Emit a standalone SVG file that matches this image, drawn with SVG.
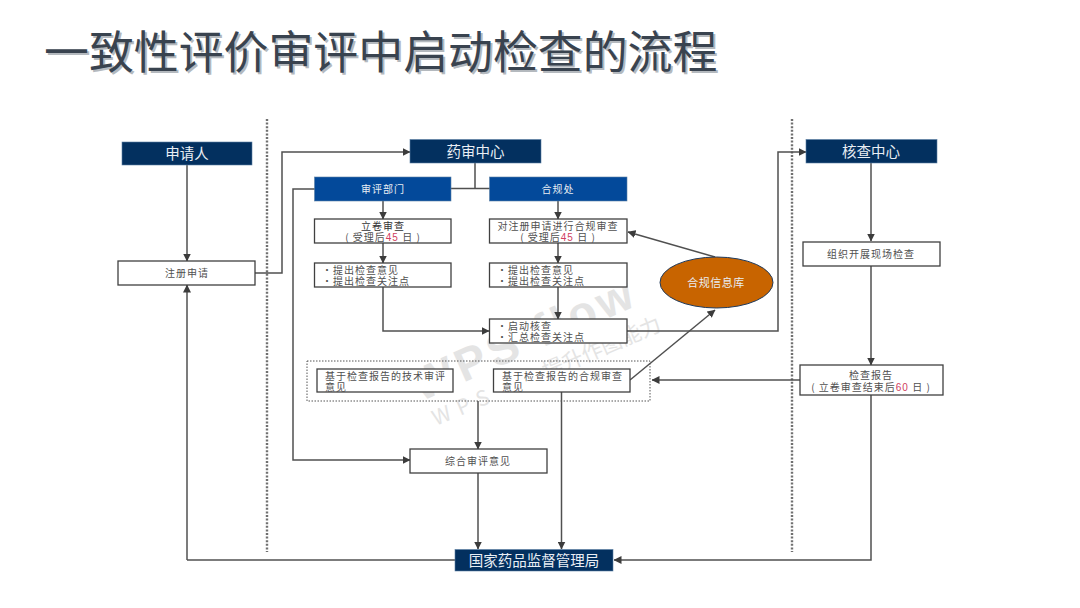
<svg xmlns="http://www.w3.org/2000/svg" width="1080" height="608" viewBox="0 0 1080 608">
<style>
text{font-family:"Noto Sans CJK SC","Liberation Sans",sans-serif;fill:#505050;font-size:10px;letter-spacing:1px}
.c{text-anchor:middle}
.w{fill:#e9eef4}
.big{font-size:14.500px;letter-spacing:0}
.box{fill:#fff;stroke:#404040;stroke-width:1.3}
.dk{fill:#03305f;stroke:#5b7fa3;stroke-width:.6}
.bl{fill:#03499a;stroke:#5b7fa3;stroke-width:.6}
.ln{fill:none;stroke:#505050;stroke-width:1.5}
.sep{stroke:#707070;stroke-width:2.4;stroke-dasharray:2 1.6;fill:none}
.red{fill:#d04060;font-family:"Liberation Sans",sans-serif}
.title{font-size:44.900px;fill:#39434f;letter-spacing:0}
.ts{font-size:44.900px;fill:#b4b9be;letter-spacing:0}
</style>
<defs>
<marker id="a" viewBox="0 0 8 8" refX="7.500" refY="4" markerUnits="userSpaceOnUse" markerWidth="8" markerHeight="8" orient="auto"><path d="M0 0L8 4L0 8z" fill="#3c3c3c"/></marker>
</defs>
<rect width="1080" height="608" fill="#fff"/>
<g id="title"><text class="ts" x="46" y="71">一致性评价审评中启动检查的流程</text><text class="title" x="44" y="69">一致性评价审评中启动检查的流程</text></g>
<g id="watermark">
<text transform="translate(420 402) rotate(-24)" style="font-size:46px;font-weight:700;letter-spacing:4px;fill:#e4e4e4;font-family:'Liberation Sans',sans-serif">WPS flow</text>
<text transform="translate(436 426) rotate(-23)" style="font-size:21px;letter-spacing:0;fill:#e4e4e4"><tspan style="letter-spacing:8px">WPS</tspan><tspan dx="52">提升作图能力</tspan></text>
</g>
<g id="separators"><path class="sep" d="M267 119V552M792 119V552"/></g>
<g id="connectors">
<path class="ln" marker-end="url(#a)" d="M187 165V261"/>
<path class="ln" marker-end="url(#a)" d="M187 560V285"/>
<path class="ln" marker-end="url(#a)" d="M255 273H282V152H410"/>
<path class="ln" d="M475 163V189M451 188.500H490"/>
<path class="ln" marker-end="url(#a)" d="M315 189H293V460H410"/>
<path class="ln" marker-end="url(#a)" d="M383 201V219"/>
<path class="ln" marker-end="url(#a)" d="M383 243V263"/>
<path class="ln" marker-end="url(#a)" d="M383 287V331H489"/>
<path class="ln" marker-end="url(#a)" d="M558 201V219"/>
<path class="ln" marker-end="url(#a)" d="M558 243V263"/>
<path class="ln" marker-end="url(#a)" d="M558 287V319"/>
<path class="ln" marker-end="url(#a)" d="M715 257L628 232"/>
<path class="ln" marker-end="url(#a)" d="M627 331H778V152H806"/>
<path class="ln" marker-end="url(#a)" d="M630 380L715 310"/>
<path class="ln" marker-end="url(#a)" d="M871 163V241"/>
<path class="ln" marker-end="url(#a)" d="M871 266V365"/>
<path class="ln" marker-end="url(#a)" d="M800 380H652"/>
<path class="ln" marker-end="url(#a)" d="M478 401V449"/>
<path class="ln" marker-end="url(#a)" d="M478 473V549"/>
<path class="ln" marker-end="url(#a)" d="M561.500 392V549"/>
<path class="ln" marker-end="url(#a)" d="M871 395V560H614"/>
<path class="ln" d="M455 560H187"/>
</g>
<g id="group-dotted"><rect x="307" y="361" width="343" height="40" fill="none" stroke="#555" stroke-width="1" stroke-dasharray="1.5 1.5"/></g>
<g id="n-applicant"><rect class="dk" x="122" y="142" width="130" height="23"/><text class="c w big" x="187" y="158.500">申请人</text></g>
<g id="n-register"><rect class="box" x="118" y="261" width="137" height="24"/><text class="c" x="187" y="277">注册申请</text></g>
<g id="n-cde"><rect class="dk" x="410" y="139.500" width="131" height="23.500"/><text class="c w big" x="475.500" y="156.500">药审中心</text></g>
<g id="n-dept"><rect class="bl" x="314.500" y="177" width="136.500" height="24"/><text class="c w" x="383" y="193">审评部门</text></g>
<g id="n-compliance"><rect class="bl" x="489.500" y="177" width="137.500" height="24"/><text class="c w" x="558" y="193">合规处</text></g>
<g id="n-filing"><rect class="box" x="314.500" y="219" width="136.500" height="24"/><text class="c" y="229.500"><tspan x="383" style="fill:#333">立卷审查</tspan><tspan x="383" dy="11">( 受理后<tspan class="red">45</tspan> 日 )</tspan></text></g>
<g id="n-opinion1"><rect class="box" x="314.500" y="263" width="136.500" height="24"/><text y="273.500"><tspan x="322">·提出检查意见</tspan><tspan x="322" dy="11">·提出检查关注点</tspan></text></g>
<g id="n-check"><rect class="box" x="489.500" y="219" width="137.500" height="24"/><text class="c" y="229.500"><tspan x="558">对注册申请进行合规审查</tspan><tspan x="558" dy="11">( 受理后<tspan class="red">45</tspan> 日 )</tspan></text></g>
<g id="n-opinion2"><rect class="box" x="489.500" y="263" width="137.500" height="24"/><text y="273.500"><tspan x="497">·提出检查意见</tspan><tspan x="497" dy="11">·提出检查关注点</tspan></text></g>
<g id="n-start"><rect class="box" x="489.500" y="319" width="137.500" height="24"/><text y="329.500"><tspan x="497">·启动核查</tspan><tspan x="497" dy="11">·汇总检查关注点</tspan></text></g>
<g id="n-db"><ellipse cx="716.500" cy="282.500" rx="56.500" ry="25.500" fill="#c86400" stroke="#1f3a5c" stroke-width="1"/><text class="c w" x="716" y="287" style="font-size:11px;letter-spacing:.5px">合规信息库</text></g>
<g id="n-tech"><rect class="box" x="317" y="369" width="136" height="23"/><text y="379.500"><tspan x="325">基于检查报告的技术审评</tspan><tspan x="325" dy="11">意见</tspan></text></g>
<g id="n-comp-op"><rect class="box" x="493.500" y="369" width="136.500" height="23"/><text y="379.500"><tspan x="502">基于检查报告的合规审查</tspan><tspan x="502" dy="11">意见</tspan></text></g>
<g id="n-overall"><rect class="box" x="410" y="449" width="137" height="24"/><text class="c" x="478" y="465">综合审评意见</text></g>
<g id="n-nmpa"><rect class="dk" x="455" y="549.500" width="158" height="21.500"/><text class="c w big" x="534" y="565.500">国家药品监督管理局</text></g>
<g id="n-center"><rect class="dk" x="806" y="139.500" width="131" height="23.500"/><text class="c w big" x="871" y="156.500">核查中心</text></g>
<g id="n-site"><rect class="box" x="803" y="242" width="137" height="24"/><text class="c" x="871" y="258">组织开展现场检查</text></g>
<g id="n-report"><rect class="box" x="800" y="365" width="143" height="30"/><text class="c" y="379"><tspan x="871">检查报告</tspan><tspan x="871" dy="11.500">( 立卷审查结束后<tspan class="red">60</tspan> 日 )</tspan></text></g>
</svg>
